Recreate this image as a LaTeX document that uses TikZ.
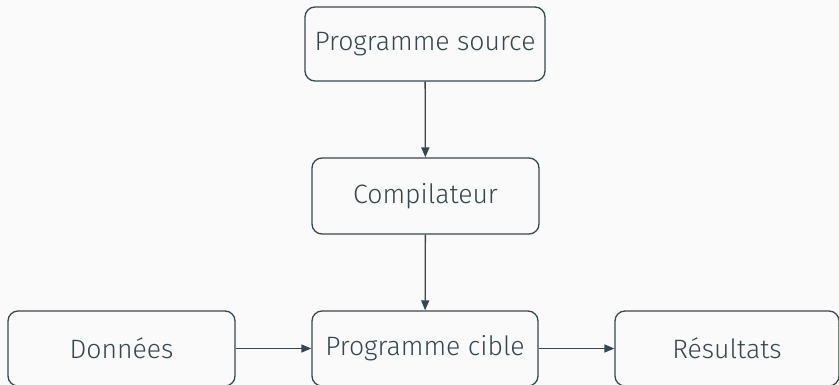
\documentclass[tikz,border=0pt]{standalone}
\usepackage{fontspec}
\setmainfont{Fira Sans Light}
\usetikzlibrary{arrows.meta}
\definecolor{bg}{HTML}{FAFAFA}
\definecolor{ink}{HTML}{37474F}
\tikzset{
  box/.style={draw=ink, line width=1.3pt, rounded corners=10pt, fill=none,
    text=ink, font=\fontsize{26.6}{32}\selectfont, inner sep=0pt},
  conn/.style={draw=ink, line width=1.3pt, -{Triangle[length=10pt,width=8pt]}}
}
\begin{document}
\begin{tikzpicture}[x=1pt,y=-1pt]
\fill[bg] (0,0) rectangle (839,385);
\useasboundingbox (0,0) rectangle (839,385);
\node[box, minimum width=240pt, minimum height=74pt] (src) at (425,44) {Programme source};
\node[box, minimum width=227pt, minimum height=76pt] (comp) at (425.5,196) {Compilateur};
\node[box, minimum width=227pt, minimum height=75pt] (data) at (121.5,348.5) {Données};
\node[box, minimum width=226pt, minimum height=75pt] (cible) at (425,348.5) {Programme cible};
\node[box, minimum width=224pt, minimum height=75pt] (res) at (727,348.5) {Résultats};
\draw[conn] (src) -- (comp);
\draw[conn] (comp) -- (cible);
\draw[conn] (data) -- (cible);
\draw[conn] (cible) -- (res);
\end{tikzpicture}
\end{document}
